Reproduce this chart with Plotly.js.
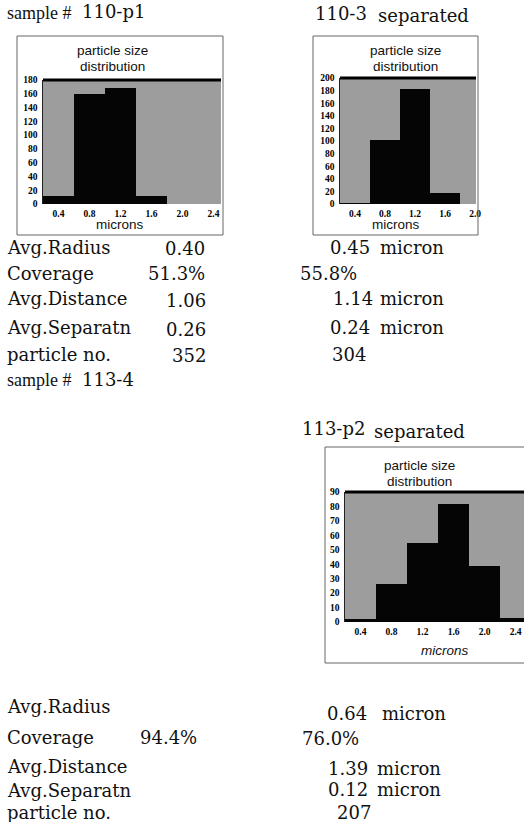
<!DOCTYPE html>
<html>
<head>
<meta charset="utf-8">
<script src="https://cdn.plot.ly/plotly-3.0.1.min.js"></script>
<style>html,body{margin:0;padding:0;background:#fff;}#plot{width:524px;height:822px;}</style>
</head>
<body>
<div id="plot"></div>
<script>
// ---- data ----
const binLabels = ['0.4', '0.8', '1.2', '1.6', '2.0', '2.4'];
const counts110p1 = [12, 160, 168, 12, 0, 0];
const counts1103 = [2, 102, 183, 17, 0, 0];
const counts113p2 = [2, 26, 55, 82, 39, 3];

const statNames = ['Avg.Radius', 'Coverage', 'Avg.Distance', 'Avg.Separatn', 'particle no.'];
const stats110p1 = ['0.40', '51.3%', '1.06', '0.26', '352'];
const stats1103 = ['0.45', '55.8%', '1.14', '0.24', '304'];
const stats1134 = ['', '94.4%', '', '', ''];
const stats113p2 = ['0.64', '76.0%', '1.39', '0.12', '207'];
const statUnits = ['micron', '', 'micron', 'micron', ''];

// ---- layout helpers ----
const W = 524, H = 822;
const fx = v => v / W;
const fy = v => 1 - v / H;

const serif = 'DejaVu Serif';
const sans = 'Liberation Sans';
const bigFont = {family: serif, size: 18, color: '#111'};
const hdrFont = {family: 'Liberation Serif', size: 18, color: '#111'};
const tickFont = {family: 'Liberation Serif', size: 9.5, color: '#000', weight: 'bold'};
const smallSans = {family: sans, size: 13.5, color: '#111'};

function bar(y, xa, ya) {
  return {type: 'bar', x: binLabels, y: y, xaxis: xa, yaxis: ya,
    marker: {color: '#050505', line: {width: 0}}, hoverinfo: 'skip', showlegend: false};
}
const data = [bar(counts110p1, 'x', 'y'), bar(counts1103, 'x2', 'y2'), bar(counts113p2, 'x3', 'y3')];

function xax(d0, d1, anchor, rmax) {
  return {domain: [fx(d0), fx(d1)], anchor: anchor, type: 'category', range: [-0.5, rmax],
    showgrid: false, zeroline: false, showline: false, ticks: '', tickfont: tickFont,
    ticklabelstandoff: 2, fixedrange: true};
}
function yax(d0, d1, anchor, top, dt) {
  return {domain: [fy(d1), fy(d0)], anchor: anchor, range: [0, top], dtick: dt,
    showgrid: false, zeroline: false, showline: true, linecolor: '#222', linewidth: 1.5,
    ticks: '', tickfont: tickFont, ticklabelstandoff: 2, fixedrange: true};
}

const ann = [];
function t(text, x, y, font, xanchor) {
  ann.push({text: text, x: fx(x), y: fy(y), xref: 'paper', yref: 'paper', xanchor: xanchor || 'left',
    yanchor: 'middle', showarrow: false, font: font});
}
// headers
t('sample #', 5, 13, hdrFont);
t('110-p1', 80, 12, bigFont);
t('110-3', 313, 14, bigFont);
t('separated', 376, 15, bigFont);
t('sample #', 5, 380, hdrFont);
t('113-4', 80, 379, bigFont);
t('113-p2', 300, 428, bigFont);
t('separated', 372, 431, bigFont);
// chart titles
t('particle size', 112, 50, smallSans, 'center');
t('distribution', 112, 67, smallSans, 'center');
t('particle size', 405, 50, smallSans, 'center');
t('distribution', 405, 67, smallSans, 'center');
t('particle size', 419, 465, smallSans, 'center');
t('distribution', 419, 482, smallSans, 'center');
t('microns', 120, 225, smallSans, 'center');
t('microns', 396, 225, smallSans, 'center');
t('microns', 445, 650, {family: sans, size: 13.5, color: '#111', style: 'italic'}, 'center');

// stats, top block
const rowsTop = [247, 273, 299, 328, 354];
const leftValX = [163, 146, 164, 164, 170];
const rightValX = [328, 298, 331, 328, 330];
statNames.forEach((n, i) => {
  t(n, 5, rowsTop[i], bigFont);
  t(stats110p1[i], leftValX[i], rowsTop[i] + 1, bigFont);
  t(stats1103[i], rightValX[i], rowsTop[i], bigFont);
  if (statUnits[i]) t(statUnits[i], 378, rowsTop[i], bigFont);
});
// stats, bottom block
const rowsBotL = [706, 737, 766, 790, 812];
const rowsBotR = [713, 738, 768, 789, 812];
const rightValX2 = [325, 300, 326, 326, 335];
const unitX2 = [380, 0, 375, 375, 0];
statNames.forEach((n, i) => {
  t(n, 5, rowsBotL[i], bigFont);
  if (stats1134[i]) t(stats1134[i], 138, rowsBotL[i], bigFont);
  t(stats113p2[i], rightValX2[i], rowsBotR[i], bigFont);
  if (statUnits[i]) t(statUnits[i], unitX2[i], rowsBotR[i], bigFont);
});

const shapes = [
  // chart frames
  {type: 'rect', xref: 'paper', yref: 'paper', x0: fx(17), x1: fx(223), y0: fy(235), y1: fy(36), line: {color: '#666', width: 1}},
  {type: 'rect', xref: 'paper', yref: 'paper', x0: fx(313), x1: fx(478), y0: fy(235), y1: fy(36), line: {color: '#666', width: 1}},
  {type: 'rect', xref: 'paper', yref: 'paper', x0: fx(325), x1: fx(530), y0: fy(663), y1: fy(447), line: {color: '#666', width: 1}},
  // heavy top edge of the plotting areas
  {type: 'line', xref: 'x domain', yref: 'y domain', x0: 0, x1: 1, y0: 1, y1: 1, line: {color: '#000', width: 3}},
  {type: 'line', xref: 'x2 domain', yref: 'y2 domain', x0: 0, x1: 1, y0: 1, y1: 1, line: {color: '#000', width: 3}},
  {type: 'line', xref: 'x3 domain', yref: 'y3 domain', x0: 0, x1: 1, y0: 1, y1: 1, line: {color: '#000', width: 3}}
];

const layout = {
  width: W, height: H, margin: {l: 0, r: 0, t: 0, b: 0},
  paper_bgcolor: '#fff', plot_bgcolor: '#9d9d9d',
  bargap: 0, showlegend: false,
  xaxis: xax(43, 221, 'y', 5.24),
  yaxis: yax(80, 204, 'x', 180, 20),
  xaxis2: xax(340, 476, 'y2', 4.03),
  yaxis2: yax(78, 204, 'x2', 200, 20),
  xaxis3: xax(345, 524, 'y3', 5.27),
  yaxis3: yax(492, 622, 'x3', 90, 10),
  annotations: ann, shapes: shapes
};

Plotly.newPlot('plot', data, layout, {displayModeBar: false, staticPlot: true});
</script>
</body>
</html>
